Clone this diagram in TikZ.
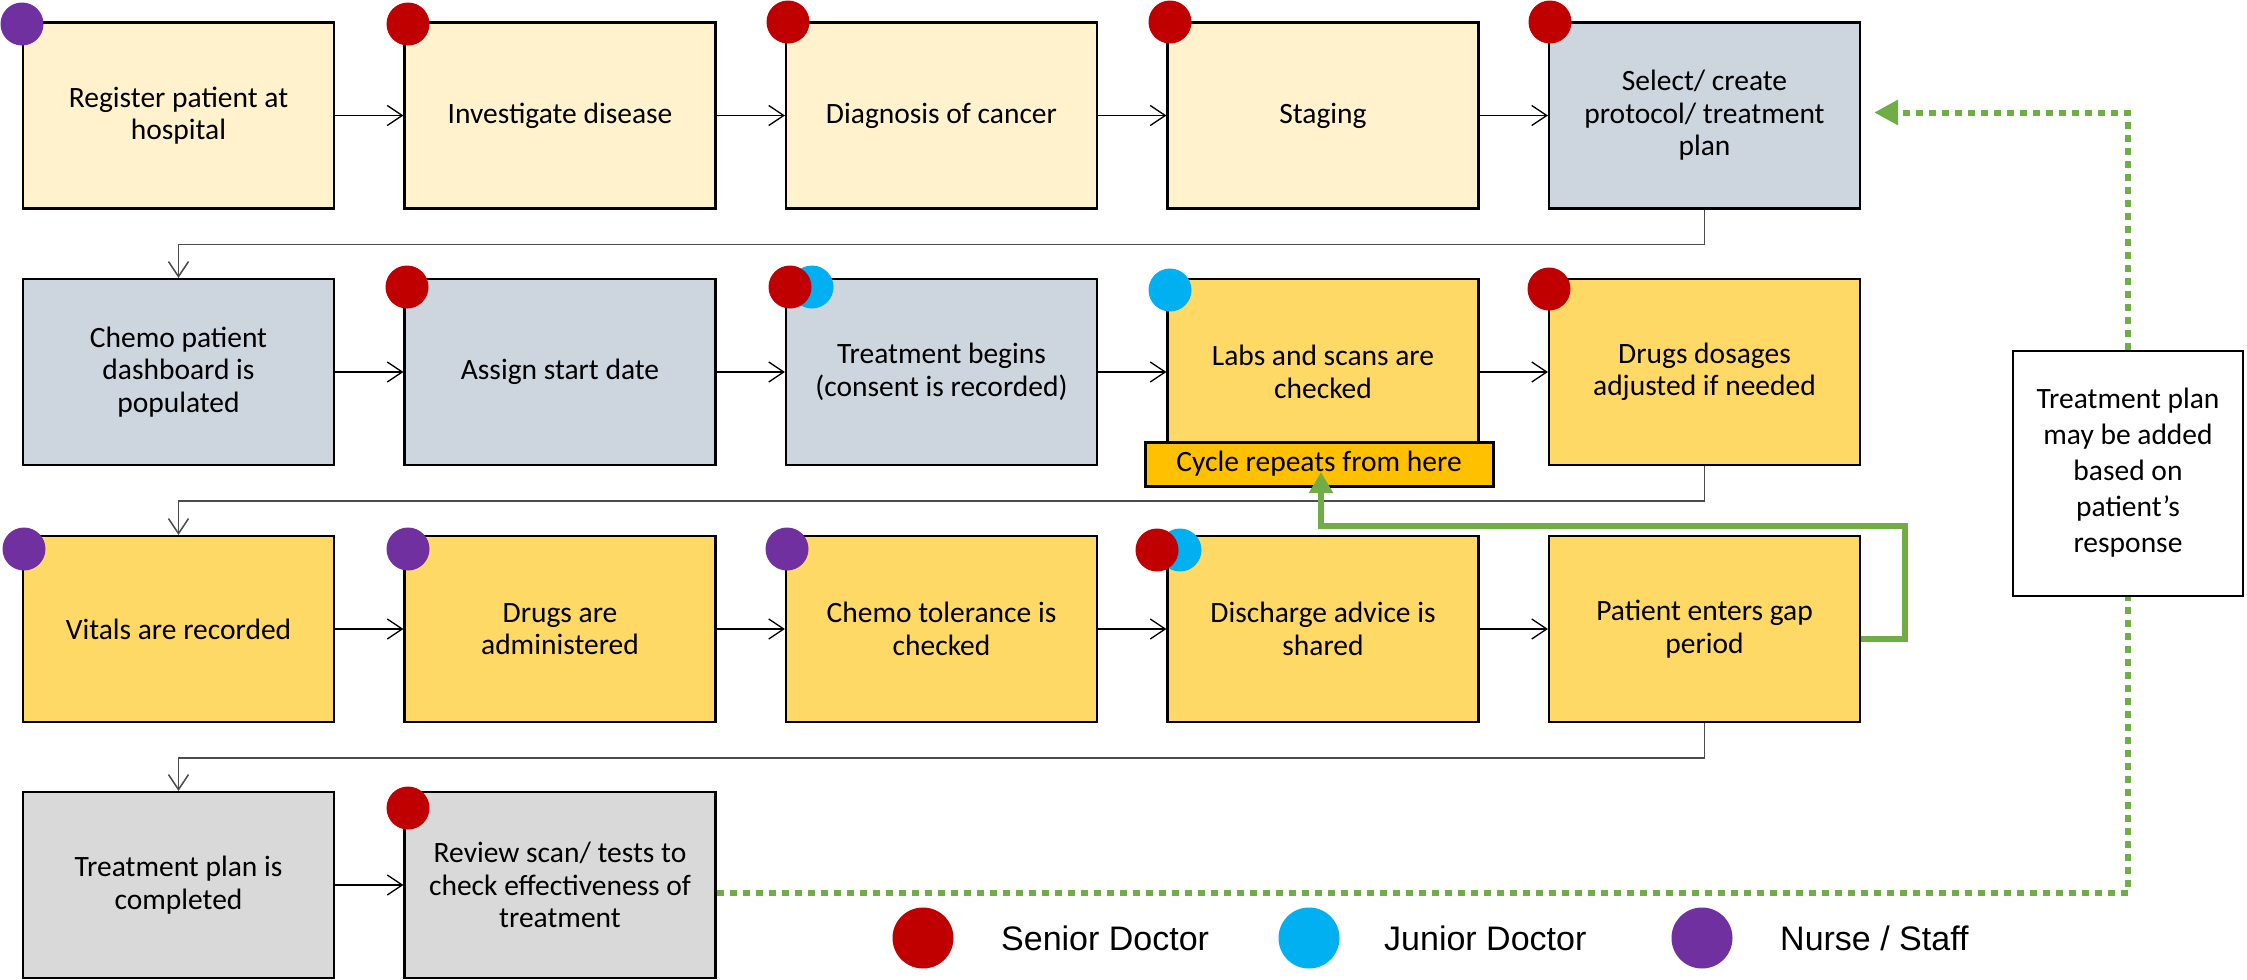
\documentclass[tikz,border=0pt]{standalone}
\usepackage{fontspec}
\setmainfont{Carlito}
\newfontfamily\legendfont{Liberation Sans}
\usetikzlibrary{arrows.meta}
\definecolor{lyel}{HTML}{FFF2CC}
\definecolor{bgray}{HTML}{CDD5DF}
\definecolor{yel}{HTML}{FFD966}
\definecolor{lgray}{HTML}{D9D9D9}
\definecolor{cyc}{HTML}{FFC000}
\definecolor{sen}{HTML}{C00000}
\definecolor{jun}{HTML}{00B0F0}
\definecolor{nur}{HTML}{7030A0}
\definecolor{grn}{HTML}{70AD47}
\tikzset{
  stepbox/.style={draw=black, line width=2.2pt, minimum width=311pt, minimum height=186pt,
    inner sep=0pt, align=center, font=\fontsize{29.5}{32.5}\selectfont},
  flow/.style={line width=1.3pt, -{Straight Barb[length=15pt,width=20pt]}},
  rowlink/.style={line width=1.5pt, draw=black!70, -{Straight Barb[length=15pt,width=20pt]}},
  role/.style={circle, minimum size=43pt, inner sep=0pt},
  legdot/.style={circle, minimum size=61pt, inner sep=0pt},
  legtext/.style={anchor=west, inner sep=0pt, font=\legendfont\fontsize{34}{40}\selectfont},
  loopline/.style={draw=grn, line width=6pt, -{Triangle[length=21pt,width=23pt]}},
  dotline/.style={draw=grn, line width=6pt, dash pattern=on 7pt off 6pt},
  dotarrow/.style={dotline, -{Triangle[length=24pt,width=24pt]}}
}
\begin{document}
\begin{tikzpicture}[x=1pt,y=-1pt]
\useasboundingbox (0,0) rectangle (2247,980);
% row 1
\node[stepbox, fill=lyel] (a1) at (178.5,115.5) {Register patient at\\hospital};
\node[stepbox, fill=lyel] (a2) at (560,115.5) {Investigate disease};
\node[stepbox, fill=lyel] (a3) at (941.5,115.5) {Diagnosis of cancer};
\node[stepbox, fill=lyel] (a4) at (1323,115.5) {Staging};
\node[stepbox, fill=bgray] (a5) at (1704.5,115.5) {Select/ create\\protocol/ treatment\\plan};
% row 2
\node[stepbox, fill=bgray] (b1) at (178.5,372) {Chemo patient\\dashboard is\\populated};
\node[stepbox, fill=bgray] (b2) at (560,372) {Assign start date};
\node[stepbox, fill=bgray] (b3) at (941.5,372) {Treatment begins\\(consent is recorded)};
\node[stepbox, fill=yel] (b4) at (1323,372) {Labs and scans are\\checked};
\node[stepbox, fill=yel] (b5) at (1704.5,372) {Drugs dosages\\adjusted if needed};
% row 3
\node[stepbox, fill=yel] (c1) at (178.5,629) {Vitals are recorded};
\node[stepbox, fill=yel] (c2) at (560,629) {Drugs are\\administered};
\node[stepbox, fill=yel] (c3) at (941.5,629) {Chemo tolerance is\\checked};
\node[stepbox, fill=yel] (c4) at (1323,629) {Discharge advice is\\shared};
\node[stepbox, fill=yel] (c5) at (1704.5,629) {Patient enters gap\\period};
% row 4
\node[stepbox, fill=lgray] (d1) at (178.5,885) {Treatment plan is\\completed};
\node[stepbox, fill=lgray] (d2) at (560,885) {Review scan/ tests to\\check effectiveness of\\treatment};
% cycle label
\node[draw=black, line width=3pt, fill=cyc, minimum width=348pt, minimum height=44pt, inner sep=0pt,
  font=\fontsize{29.5}{32}\selectfont] (cyc) at (1319,464) {Cycle repeats from here};
% note
\node[draw=black, line width=2pt, fill=white, minimum width=230pt, minimum height=245pt, inner sep=0pt,
  align=center, font=\fontsize{29.5}{36}\selectfont] (note) at (2128,473)
  {Treatment plan\\may be added\\based on\\patient’s\\response};
% flows
\foreach \r in {a,b,c}{
  \draw[flow] (\r1.east) -- (\r2.west);
  \draw[flow] (\r2.east) -- (\r3.west);
  \draw[flow] (\r3.east) -- (\r4.west);
  \draw[flow] (\r4.east) -- (\r5.west);
}
\draw[flow] (d1.east) -- (d2.west);
\draw[rowlink] (a5.south) -- ++(0,35) -| (b1.north);
\draw[rowlink] (b5.south) -- ++(0,35) -| (c1.north);
\draw[rowlink] (c5.south) -- ++(0,35) -| (d1.north);
% green loop
\coordinate (lr) at (1905,526);
\coordinate (cyctip) at (1321,472);
\draw[loopline] ([yshift=-10pt]c5.east) -| (lr) -| (cyctip);
% dotted feedback
\draw[dotline] ([yshift=-8pt]d2.east) -| (note.south);
\draw[dotarrow] (note.north) |- ([xshift=13pt,yshift=3pt]a5.east);
% role markers
\node[role, fill=nur] (m1) at (22,24) {};
\node[role, fill=sen] (m2) at (408,24) {};
\node[role, fill=sen] (m3) at (788,22) {};
\node[role, fill=sen] (m4) at (1170,22) {};
\node[role, fill=sen] (m5) at (1550,22) {};
\node[role, fill=sen] (m6) at (407,287) {};
\node[role, fill=jun] (m7b) at (812,287) {};
\node[role, fill=sen] (m7) at (790,287) {};
\node[role, fill=jun] (m8) at (1170,290) {};
\node[role, fill=sen] (m9) at (1549,289) {};
\node[role, fill=nur] (m10) at (24,549) {};
\node[role, fill=nur] (m11) at (408,549) {};
\node[role, fill=nur] (m12) at (787,549) {};
\node[role, fill=jun] (m13b) at (1180,550) {};
\node[role, fill=sen] (m13) at (1157,550) {};
\node[role, fill=sen] (m14) at (408,808) {};
% legend
\node[legdot, fill=sen] (l1) at (923,938) {};
\node[legtext] (t1) at (1001,938) {Senior Doctor};
\node[legdot, fill=jun] (l2) at (1309,938) {};
\node[legtext] (t2) at (1384,938) {Junior Doctor};
\node[legdot, fill=nur] (l3) at (1702,938) {};
\node[legtext] (t3) at (1780,938) {Nurse / Staff};
\end{tikzpicture}
\end{document}
